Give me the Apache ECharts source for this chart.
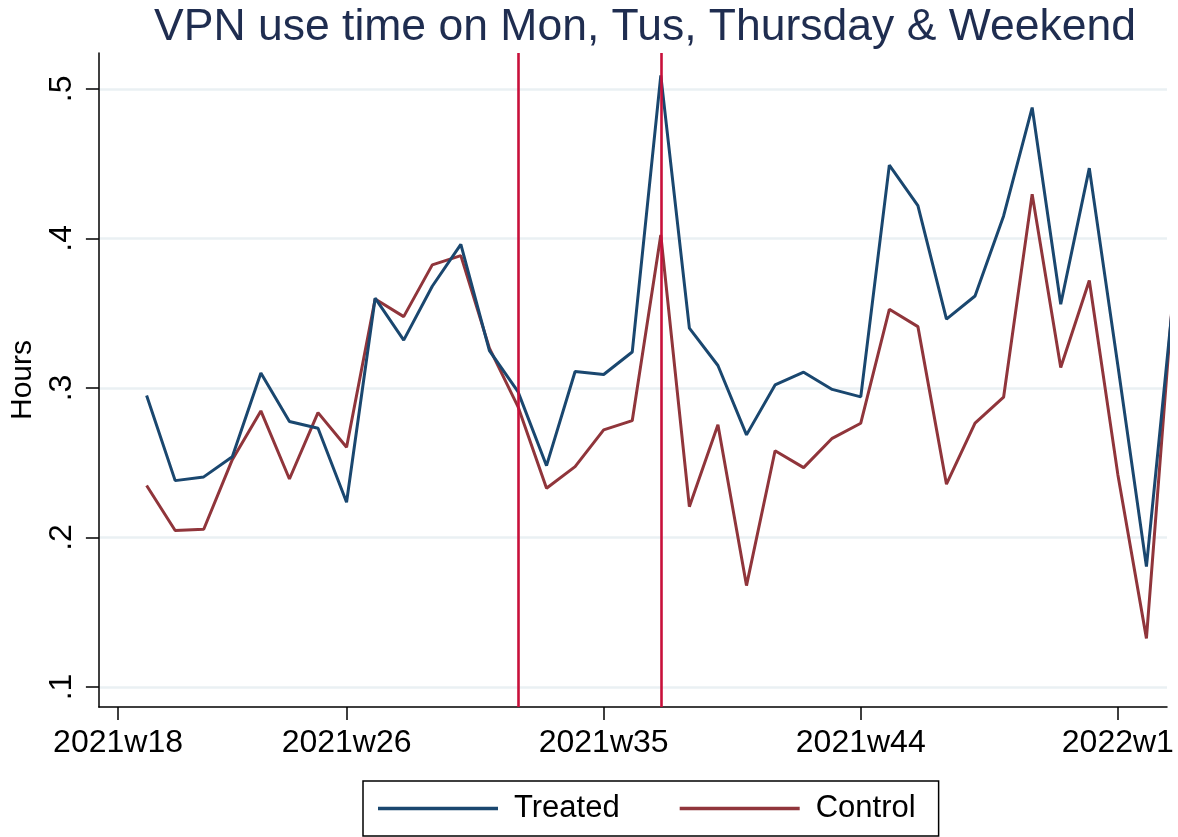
<!DOCTYPE html>
<html>
<head>
<meta charset="utf-8">
<title>VPN use time</title>
<script src="https://cdn.jsdelivr.net/npm/echarts@6/dist/echarts.min.js"></script>
<style>
    html, body { margin: 0; padding: 0; background: #fff; }
    #chart { width: 1178px; height: 837px; }
</style>
</head>
<body>
<div id="chart"></div>
<script>
// weeks counted from 2021w1 (2022w1 = 53)
var weeks = [19, 20, 21, 22, 23, 24, 25, 26, 27, 28, 29, 30, 31, 32, 33, 34, 35, 36, 37,
    38, 39, 40, 41, 42, 43, 44, 45, 46, 47, 48, 49, 50, 51, 52, 53, 54, 55];

var treated = [0.295, 0.238, 0.2405, 0.254, 0.310, 0.2775, 0.273, 0.2235, 0.360, 0.332,
    0.368, 0.396, 0.325, 0.2975, 0.248, 0.311, 0.309, 0.324, 0.509, 0.340,
    0.315, 0.2686, 0.302, 0.3105, 0.299, 0.294, 0.449, 0.422, 0.346, 0.3615,
    0.415, 0.4875, 0.356, 0.447, 0.315, 0.1805, 0.372];

var control = [0.2347, 0.2046, 0.2055, 0.252, 0.2846, 0.2391, 0.2835, 0.2603, 0.3595, 0.3477,
    0.3823, 0.3885, 0.3266, 0.2875, 0.2329, 0.2474, 0.2719, 0.2781, 0.4023, 0.2206,
    0.2753, 0.1678, 0.258, 0.2467, 0.2663, 0.2764, 0.3526, 0.341, 0.2356, 0.2764,
    0.2938, 0.4296, 0.3136, 0.3718, 0.242, 0.1325, 0.38];

var xTickWeeks = [18, 26, 35, 44, 53];
var xTickLabels = ['2021w18', '2021w26', '2021w35', '2021w44', '2022w1'];
var yTicks = [0.1, 0.2, 0.3, 0.4, 0.5];
var eventWeeks = [32, 37];

var font = '"Liberation Sans", Arial, sans-serif';

function pairs(ys) {
    var out = [];
    for (var i = 0; i < weeks.length; i++) {
        out.push([weeks[i], ys[i]]);
    }
    return out;
}

var myChart = echarts.init(document.getElementById('chart'));

var option = {
    animation: false,
    backgroundColor: '#fff',
    textStyle: { fontFamily: font },
    title: {
        text: 'VPN use time on Mon, Tus, Thursday & Weekend',
        left: 640,
        textAlign: 'center',
        top: 0,
        textStyle: { fontFamily: font, fontSize: 44.5, fontWeight: 'normal', color: '#1f2d50' }
    },
    grid: { left: 97, right: 11, top: 53, bottom: 130, containLabel: false },
    legend: {
        bottom: 1,
        left: 363,
        padding: [12, 23, 12, 15],
        borderColor: '#000',
        borderWidth: 1.5,
        icon: 'rect',
        itemWidth: 120,
        itemHeight: 3.5,
        itemGap: 60,
        textStyle: { fontFamily: font, fontSize: 31, color: '#000', padding: [0, 0, 0, 11] },
        data: ['Treated', 'Control']
    },
    xAxis: {
        type: 'value',
        min: 17.33,
        max: 54.72,
        axisLine: { show: true, onZero: false, lineStyle: { color: '#000', width: 1.5 } },
        axisTick: { show: true, length: 13, customValues: xTickWeeks, lineStyle: { color: '#000', width: 1.5 } },
        axisLabel: {
            customValues: xTickWeeks,
            margin: 20,
            fontSize: 32,
            color: '#000',
            fontFamily: font,
            formatter: function (v) {
                var i = xTickWeeks.indexOf(Math.round(v));
                return i >= 0 ? xTickLabels[i] : '';
            }
        },
        splitLine: { show: false }
    },
    yAxis: {
        type: 'value',
        min: 0.0866,
        max: 0.524,
        name: 'Hours',
        nameLocation: 'middle',
        nameRotate: 90,
        nameGap: 56,
        nameTextStyle: { fontFamily: font, fontSize: 30, color: '#000' },
        axisLine: { show: true, lineStyle: { color: '#000', width: 1.5 } },
        axisTick: { show: true, length: 13, customValues: yTicks, lineStyle: { color: '#000', width: 1.5 } },
        axisLabel: {
            customValues: yTicks,
            rotate: 90,
            margin: 21,
            fontSize: 32,
            color: '#000',
            fontFamily: font,
            formatter: function (v) {
                return v.toFixed(1).replace(/^0/, '');
            }
        },
        splitLine: { show: true, lineStyle: { color: '#eaf0f3', width: 2.5 } }
    },
    series: [
        {
            name: 'Treated',
            type: 'line',
            symbol: 'none',
            clip: true,
            data: pairs(treated),
            lineStyle: { color: '#1a476f', width: 3 },
            itemStyle: { color: '#1a476f' },
            z: 3,
            markLine: {
                silent: true,
                symbol: ['none', 'none'],
                label: { show: false },
                lineStyle: { color: '#c8103a', width: 2.6, type: 'solid' },
                data: eventWeeks.map(function (w) { return { xAxis: w }; })
            }
        },
        {
            name: 'Control',
            type: 'line',
            symbol: 'none',
            clip: true,
            data: pairs(control),
            lineStyle: { color: '#90353b', width: 3 },
            itemStyle: { color: '#90353b' },
            z: 2
        }
    ]
};

myChart.setOption(option);
</script>
</body>
</html>
